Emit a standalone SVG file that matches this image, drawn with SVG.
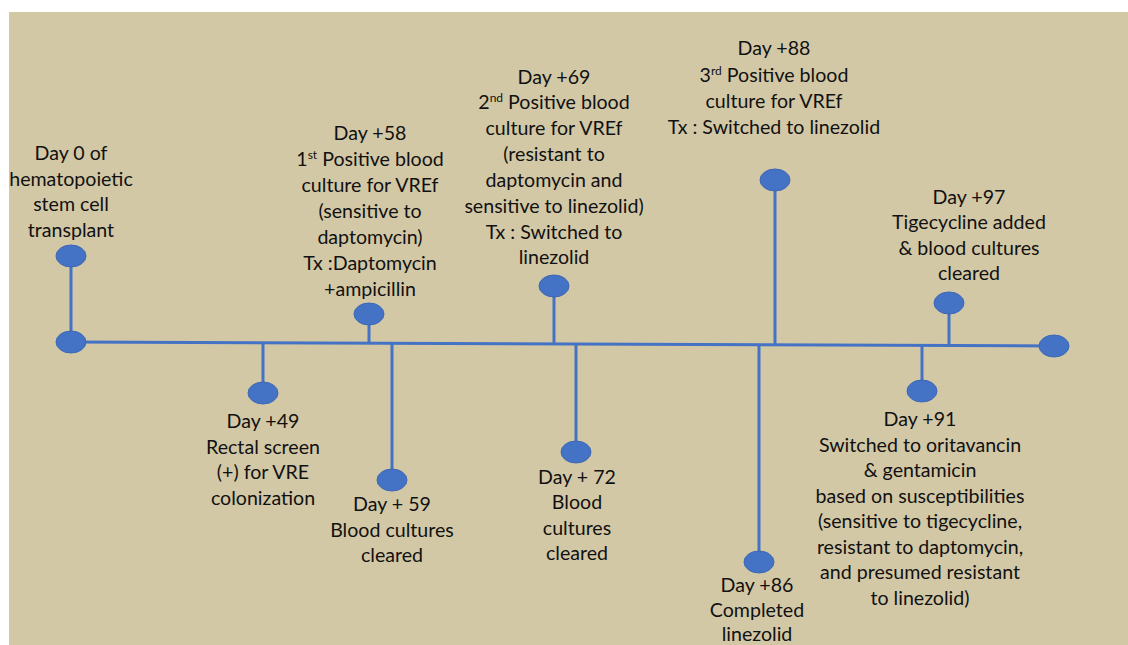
<svg xmlns="http://www.w3.org/2000/svg" width="1128" height="645" viewBox="0 0 1128 645">
<style>
.t{font-family:Lato,"Liberation Sans",sans-serif;font-size:19.6px;fill:#111;text-anchor:middle}
.n{fill:#4472C4;stroke:#3d68b5;stroke-width:1}
.c{stroke:#4472C4;stroke-width:3;fill:none}
.s{font-size:12px;baseline-shift:super}
</style>
<rect x="0" y="0" width="1128" height="645" fill="#ffffff"/>
<rect x="9" y="12" width="1119" height="633" fill="#D3C8A6"/>
<g id="connectors">
<line class="c" x1="71" y1="342" x2="1054" y2="346"/>
<line class="c" x1="71" y1="256" x2="71" y2="342"/>
<line class="c" x1="263" y1="343" x2="263" y2="393"/>
<line class="c" x1="369" y1="314" x2="369" y2="343"/>
<line class="c" x1="392" y1="343" x2="392" y2="480"/>
<line class="c" x1="554" y1="286" x2="554" y2="343"/>
<line class="c" x1="576" y1="343" x2="576" y2="452"/>
<line class="c" x1="759" y1="344" x2="759" y2="562"/>
<line class="c" x1="775" y1="180" x2="775" y2="344"/>
<line class="c" x1="922" y1="345" x2="922" y2="391"/>
<line class="c" x1="949" y1="303" x2="949" y2="345"/>
</g>
<g id="start">
<ellipse class="n" cx="71" cy="342" rx="15" ry="11"/>
</g>
<g id="end">
<ellipse class="n" cx="1054" cy="346" rx="15" ry="11"/>
</g>
<g id="day0">
<ellipse class="n" cx="71" cy="256" rx="15" ry="11"/>
<text class="t" x="71" y="160">Day 0 of</text>
<text class="t" x="71" y="186">hematopoietic</text>
<text class="t" x="71" y="211">stem cell</text>
<text class="t" x="71" y="237">transplant</text>
</g>
<g id="day49">
<ellipse class="n" cx="263" cy="393" rx="15" ry="11"/>
<text class="t" x="263" y="428">Day +49</text>
<text class="t" x="263" y="454">Rectal screen</text>
<text class="t" x="263" y="479">(+) for VRE</text>
<text class="t" x="263" y="505">colonization</text>
</g>
<g id="day58">
<ellipse class="n" cx="369" cy="314" rx="15" ry="11"/>
<text class="t" x="370" y="140">Day +58</text>
<text class="t" x="370" y="166">1<tspan class="s">st</tspan> Positive blood</text>
<text class="t" x="370" y="192">culture for VREf</text>
<text class="t" x="370" y="218">(sensitive to</text>
<text class="t" x="370" y="244">daptomycin)</text>
<text class="t" x="370" y="270">Tx :Daptomycin</text>
<text class="t" x="370" y="296">+ampicillin</text>
</g>
<g id="day59">
<ellipse class="n" cx="392" cy="480" rx="15" ry="11"/>
<text class="t" x="392" y="511">Day + 59</text>
<text class="t" x="392" y="537">Blood cultures</text>
<text class="t" x="392" y="562">cleared</text>
</g>
<g id="day69">
<ellipse class="n" cx="554" cy="286" rx="15" ry="11"/>
<text class="t" x="554" y="84">Day +69</text>
<text class="t" x="554" y="109">2<tspan class="s">nd</tspan> Positive blood</text>
<text class="t" x="554" y="135">culture for VREf</text>
<text class="t" x="554" y="161">(resistant to</text>
<text class="t" x="554" y="187">daptomycin and</text>
<text class="t" x="554" y="213">sensitive to linezolid)</text>
<text class="t" x="554" y="239">Tx : Switched to</text>
<text class="t" x="554" y="264">linezolid</text>
</g>
<g id="day72">
<ellipse class="n" cx="576" cy="452" rx="15" ry="11"/>
<text class="t" x="577" y="484">Day + 72</text>
<text class="t" x="577" y="509">Blood</text>
<text class="t" x="577" y="535">cultures</text>
<text class="t" x="577" y="560">cleared</text>
</g>
<g id="day86">
<ellipse class="n" cx="759" cy="562" rx="15" ry="11"/>
<text class="t" x="757" y="592">Day +86</text>
<text class="t" x="757" y="617">Completed</text>
<text class="t" x="757" y="641">linezolid</text>
</g>
<g id="day88">
<ellipse class="n" cx="775" cy="180" rx="15" ry="11"/>
<text class="t" x="774" y="55">Day +88</text>
<text class="t" x="774" y="82">3<tspan class="s">rd</tspan> Positive blood</text>
<text class="t" x="774" y="108">culture for VREf</text>
<text class="t" x="774" y="134">Tx : Switched to linezolid</text>
</g>
<g id="day91">
<ellipse class="n" cx="922" cy="391" rx="15" ry="11"/>
<text class="t" x="920" y="426">Day +91</text>
<text class="t" x="920" y="452">Switched to oritavancin</text>
<text class="t" x="920" y="477">&amp; gentamicin</text>
<text class="t" x="920" y="503">based on susceptibilities</text>
<text class="t" x="920" y="528">(sensitive to tigecycline,</text>
<text class="t" x="920" y="554">resistant to daptomycin,</text>
<text class="t" x="920" y="579">and presumed resistant</text>
<text class="t" x="920" y="605">to linezolid)</text>
</g>
<g id="day97">
<ellipse class="n" cx="949" cy="303" rx="15" ry="11"/>
<text class="t" x="969" y="204">Day +97</text>
<text class="t" x="969" y="229">Tigecycline added</text>
<text class="t" x="969" y="255">&amp; blood cultures</text>
<text class="t" x="969" y="280">cleared</text>
</g>
</svg>
